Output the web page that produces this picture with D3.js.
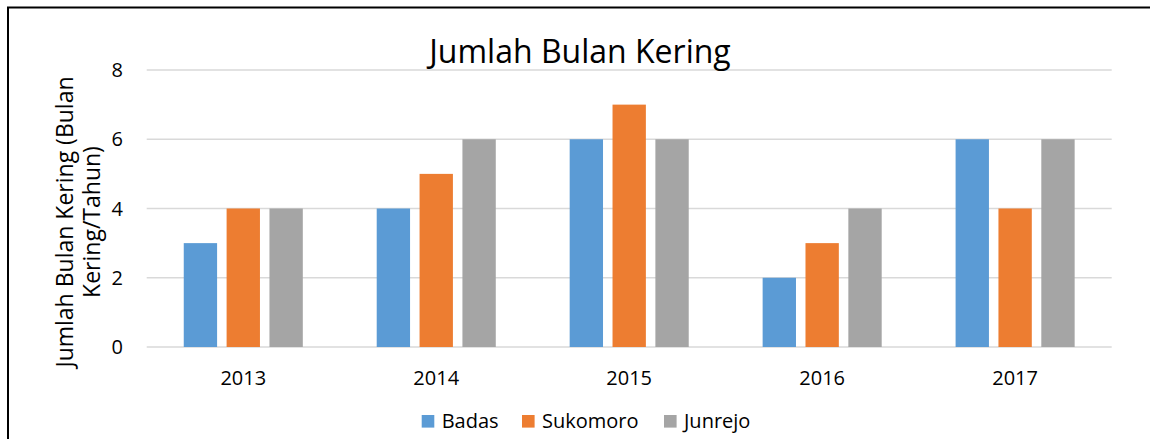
<!DOCTYPE html>
<html>
<head>
<meta charset="utf-8">
<script src="https://cdn.jsdelivr.net/npm/d3@7"></script>
<style>
  body { margin: 0; background: #fff; }
  svg text { font-family: "Open Sans", sans-serif; fill: #000; }
</style>
</head>
<body>
<svg id="chart" width="1150" height="439"></svg>
<script>
// data
var years = ["2013", "2014", "2015", "2016", "2017"];
var seriesNames = ["Badas", "Sukomoro", "Junrejo"];
var badas = [3, 4, 6, 2, 6];
var sukomoro = [4, 5, 7, 3, 4];
var junrejo = [4, 6, 6, 4, 6];
var yTicks = [0, 2, 4, 6, 8];
var colors = ["#5B9BD5", "#ED7D31", "#A5A5A5"];

var values = [badas, sukomoro, junrejo];
var rows = years.map(function(y, i) {
    return { year: y, vals: values.map(function(s) { return s[i]; }) };
});

var svg = d3.select("#chart");

// outer frame of the chart object
svg.append("rect")
    .attr("x", 8).attr("y", 7.5)
    .attr("width", 1160).attr("height", 460)
    .attr("fill", "none")
    .attr("stroke", "#000")
    .attr("stroke-width", 2);

var plotLeft = 146.7, plotRight = 1111.7, plotTop = 70, plotBottom = 347;

var x0 = d3.scaleBand()
    .domain(years)
    .range([plotLeft, plotRight])
    .paddingInner(0.383)
    .paddingOuter(0.192);

var x1 = d3.scaleBand()
    .domain(seriesNames)
    .range([0, x0.bandwidth()])
    .paddingInner(0.222);

var y = d3.scaleLinear().domain([0, 8]).range([plotBottom, plotTop]);
var z = d3.scaleOrdinal().domain(seriesNames).range(colors);

// gridlines
svg.append("g")
    .selectAll("line")
    .data(yTicks)
    .enter().append("line")
    .attr("x1", plotLeft).attr("x2", plotRight)
    .attr("y1", function(d) { return y(d); })
    .attr("y2", function(d) { return y(d); })
    .attr("stroke", "#D9D9D9")
    .attr("stroke-width", 1.5);

// y tick labels
svg.append("g")
    .selectAll("text")
    .data(yTicks)
    .enter().append("text")
    .attr("x", 123)
    .attr("y", function(d) { return y(d); })
    .attr("dy", "0.35em")
    .attr("text-anchor", "end")
    .style("font-size", "20px")
    .text(function(d) { return d; });

// bars
svg.append("g")
    .selectAll("g")
    .data(rows)
    .enter().append("g")
    .attr("transform", function(d) { return "translate(" + x0(d.year) + ",0)"; })
    .selectAll("rect")
    .data(function(d) { return d.vals.map(function(v, i) { return { key: seriesNames[i], value: v }; }); })
    .enter().append("rect")
    .attr("x", function(d) { return x1(d.key); })
    .attr("y", function(d) { return y(d.value); })
    .attr("width", x1.bandwidth())
    .attr("height", function(d) { return y(0) - y(d.value); })
    .attr("fill", function(d) { return z(d.key); });

// x labels
svg.append("g")
    .selectAll("text")
    .data(years)
    .enter().append("text")
    .attr("x", function(d) { return x0(d) + x0.bandwidth() / 2; })
    .attr("y", 385)
    .attr("text-anchor", "middle")
    .style("font-size", "20px")
    .text(function(d) { return d; });

// title
svg.append("text")
    .attr("x", 580)
    .attr("y", 63)
    .attr("text-anchor", "middle")
    .style("font-size", "32px")
    .text("Jumlah Bulan Kering");

// y axis title, two lines
var yTitle = svg.append("text")
    .attr("transform", "translate(0,222) rotate(-90)")
    .attr("text-anchor", "middle")
    .style("font-size", "23px");
yTitle.append("tspan").attr("x", 0).attr("y", 73).text("Jumlah Bulan Kering (Bulan");
yTitle.append("tspan").attr("x", 0).attr("y", 100).text("Kering/Tahun)");

// legend
var legendX = [421.7, 522, 664];
var legend = svg.append("g")
    .selectAll("g")
    .data(seriesNames)
    .enter().append("g")
    .attr("transform", function(d, i) { return "translate(" + legendX[i] + ",415)"; });

legend.append("rect")
    .attr("width", 12.6)
    .attr("height", 12.6)
    .attr("fill", z);

legend.append("text")
    .attr("x", 20)
    .attr("y", 12.8)
    .style("font-size", "20px")
    .text(function(d) { return d; });
</script>
</body>
</html>
